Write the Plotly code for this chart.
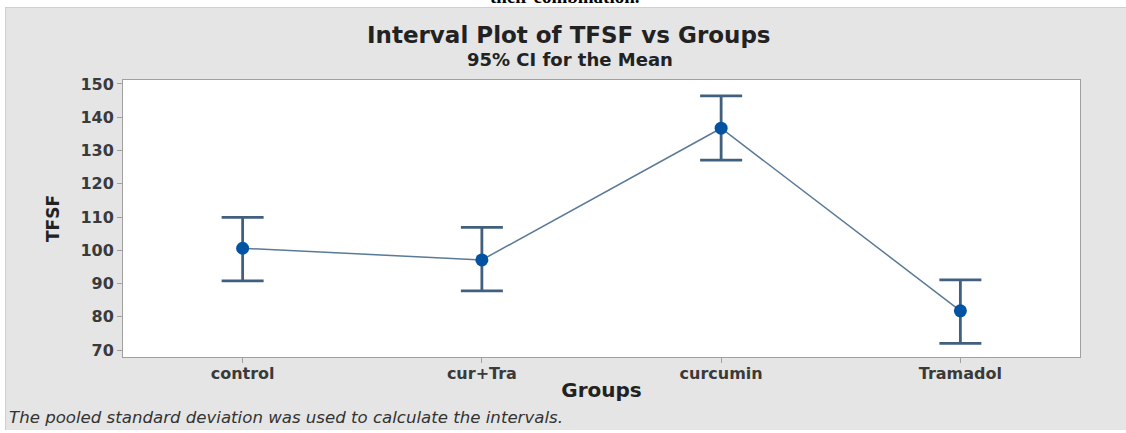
import plotly.graph_objects as go

groups = ["control", "cur+Tra", "curcumin", "Tramadol"]
means = [100.6, 97.1, 136.7, 81.8]
upper = [109.9, 106.9, 146.4, 91.1]
lower = [90.8, 87.8, 127.1, 72.0]
yticks = [70, 80, 90, 100, 110, 120, 130, 140, 150]

err_plus = [u - m for u, m in zip(upper, means)]
err_minus = [m - l for m, l in zip(means, lower)]

W, H = 1126, 433
L, R, T, B = 123, 1080, 80, 357
pw, ph = R - L, B - T

def px(x):
    return (x - L) / pw

def py(y):
    return (B - y) / ph

FONT = "DejaVu Sans"
GRAY = "#e5e5e5"

fig = go.Figure()
fig.add_trace(go.Scatter(
    x=groups, y=means, mode="lines",
    line=dict(color="#5b7a97", width=1.5),
    hoverinfo="skip", showlegend=False,
))
fig.add_trace(go.Scatter(
    x=groups, y=means, mode="markers",
    marker=dict(color="#0453a3", size=13, symbol="circle"),
    error_y=dict(type="data", symmetric=False, array=err_plus, arrayminus=err_minus,
                 color="#41607f", thickness=2.8, width=21),
    showlegend=False,
))

def white_rect(x0, x1, y0, y1):
    return dict(type="rect", xref="paper", yref="paper", layer="below",
                x0=px(x0), x1=px(x1), y0=py(y1), y1=py(y0),
                fillcolor="white", line=dict(width=0))

fig.update_layout(
    width=W, height=H,
    margin=dict(l=L, r=W - R, t=T, b=H - B),
    paper_bgcolor=GRAY,
    plot_bgcolor="white",
    font=dict(family=FONT, color="#333"),
    shapes=[
        white_rect(-5, 1135, -5, 7),
        white_rect(-5, 5, -5, 440),
        white_rect(-5, 1135, 430, 440),
        dict(type="line", xref="paper", yref="paper", layer="below",
             x0=px(5), x1=px(1130), y0=py(7.5), y1=py(7.5),
             line=dict(color="#d0d0d0", width=1)),
        dict(type="line", xref="paper", yref="paper", layer="below",
             x0=px(5.5), x1=px(5.5), y0=py(7), y1=py(430),
             line=dict(color="#d0d0d0", width=1)),
    ],
    annotations=[
        dict(text="Interval Plot of TFSF vs Groups", xref="paper", yref="paper",
             x=px(569), y=py(35), xanchor="center", yanchor="middle", showarrow=False,
             font=dict(family=FONT, size=23, color="#222", weight="bold")),
        dict(text="95% CI for the Mean", xref="paper", yref="paper",
             x=px(570), y=py(59), xanchor="center", yanchor="middle", showarrow=False,
             font=dict(family=FONT, size=18, color="#222", weight="bold")),
        dict(text="<b>their combination.</b>", xref="paper", yref="paper",
             x=px(565), y=py(-3), xanchor="center", yanchor="middle", showarrow=False,
             font=dict(family="Liberation Serif", size=19, color="#000")),
        dict(text="<i>The pooled standard deviation was used to calculate the intervals.</i>",
             xref="paper", yref="paper",
             x=px(7), y=py(417), xanchor="left", yanchor="middle", showarrow=False,
             font=dict(family=FONT, size=16.6, color="#333")),
    ],
)

fig.update_xaxes(
    type="category", range=[-0.5, 3.5],
    showline=True, linecolor="#a0a0a0", linewidth=1, mirror=True,
    ticks="outside", ticklen=5, tickcolor="#a0a0a0",
    showgrid=False, zeroline=False, ticklabelstandoff=-3,
    tickfont=dict(family=FONT, size=16, color="#3a3a3a", weight="bold"),
    title=dict(text="Groups", standoff=0,
               font=dict(family=FONT, size=20, color="#222", weight="bold")),
)
fig.update_yaxes(
    range=[67.9, 151.2], tickvals=yticks,
    showline=True, linecolor="#a0a0a0", linewidth=1, mirror=True,
    ticks="outside", ticklen=5, tickcolor="#a0a0a0",
    showgrid=False, zeroline=False,
    tickfont=dict(family=FONT, size=16, color="#3a3a3a", weight="bold"),
    title=dict(text="TFSF", standoff=16,
               font=dict(family=FONT, size=17, color="#222", weight="bold")),
)

fig.write_html(
    "out.html",
    config={"displayModeBar": False},
    post_script="document.body.style.margin='0';document.body.style.overflow='hidden';"
                "document.documentElement.style.overflow='hidden';",
)
